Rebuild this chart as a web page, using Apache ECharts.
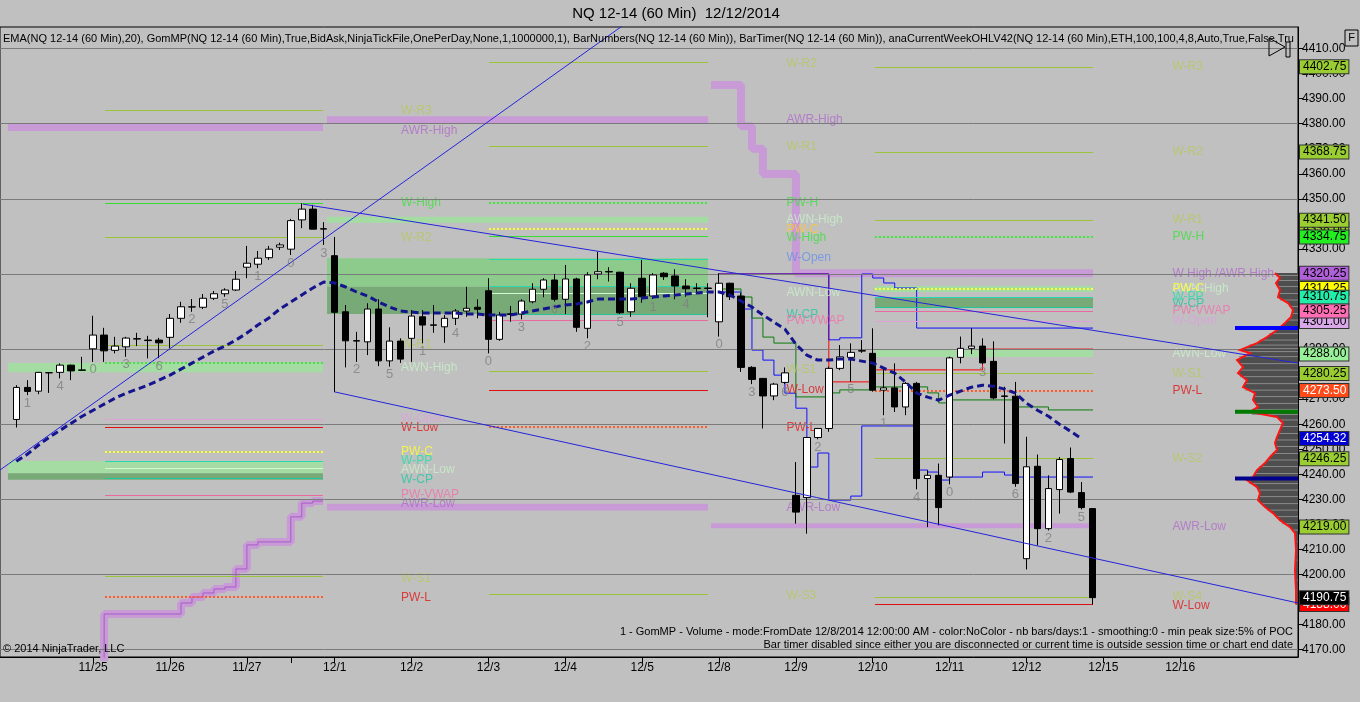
<!DOCTYPE html>
<html><head><meta charset="utf-8">
<script src="https://cdn.jsdelivr.net/npm/echarts@6.0.0/dist/echarts.min.js"></script>
<style>html,body{margin:0;padding:0;background:#c0c0c0;overflow:hidden}#c{width:1360px;height:702px}</style>
</head><body><div id="c"></div>
<script>
// ---------- DATA ----------
// hourly bars, index 0 = first bar on chart; [open, close, low, high]
const candles = [
[4261.9,4274.7,4258.7,4275.6],[4274.7,4273.1,4271.6,4277.6],[4273.2,4280.7,4272.0,4280.9],[4280.5,4280.6,4272.5,4280.8],
[4280.7,4283.6,4278.3,4284.3],[4283.6,4281.3,4277.6,4283.8],[4281.5,4281.7,4281.3,4286.9],[4290.1,4295.6,4284.9,4303.3],
[4295.6,4289.3,4284.9,4298.5],[4289.5,4291.2,4288.3,4294.9],[4290.9,4294.4,4286.9,4294.9],[4294.0,4294.2,4291.2,4296.5],
[4293.6,4293.4,4286.3,4295.3],[4293.6,4292.5,4286.4,4294.5],[4294.7,4302.3,4290.3,4304.0],[4302.3,4306.9,4300.5,4308.9],
[4306.8,4306.9,4304.9,4310.0],[4306.7,4310.3,4306.0,4312.0],[4310.3,4312.1,4309.6,4313.2],[4312.1,4313.6,4310.9,4314.3],
[4313.6,4317.9,4313.2,4321.2],[4322.7,4324.3,4318.3,4331.2],[4323.9,4326.3,4322.3,4329.2],[4326.5,4329.9,4325.6,4331.2],
[4330.7,4331.6,4329.6,4332.5],[4329.9,4341.3,4327.6,4342.0],[4341.6,4345.9,4338.3,4348.3],[4345.9,4337.9,4337.9,4347.6],
[4337.9,4338.1,4331.6,4340.7],[4327.3,4304.7,4272.8,4334.8],[4304.9,4293.3,4282.7,4307.6],[4293.2,4293.4,4284.9,4296.9],
[4292.9,4306.0,4287.6,4308.3],[4306.0,4285.3,4283.2,4309.9],[4285.3,4293.2,4283.0,4298.7],[4293.2,4286.0,4284.5,4294.3],
[4294.3,4303.2,4284.9,4305.6],[4302.9,4299.6,4292.3,4305.6],[4299.5,4299.7,4296.5,4307.6],[4298.9,4302.3,4292.5,4303.6],
[4302.3,4305.2,4299.6,4306.0],[4305.2,4306.3,4302.9,4314.9],[4306.7,4305.9,4302.3,4309.9],[4313.3,4293.9,4288.3,4318.3],
[4293.9,4303.6,4293.3,4304.9],[4304.1,4303.8,4300.9,4307.2],[4304.0,4309.2,4301.9,4309.9],[4308.9,4313.9,4308.3,4316.3],
[4313.9,4317.6,4310.7,4318.3],[4317.6,4309.9,4309.0,4320.0],[4309.9,4318.0,4304.0,4323.6],[4318.0,4298.7,4296.9,4318.5],
[4298.3,4319.6,4294.3,4320.7],[4320.0,4320.9,4317.9,4328.9],[4320.8,4321.0,4317.0,4322.7],[4320.7,4304.5,4304.0,4320.9],
[4304.9,4314.3,4302.9,4316.3],[4318.3,4310.9,4308.5,4325.6],[4311.2,4319.6,4310.0,4320.3],[4320.3,4318.9,4317.6,4320.7],
[4319.2,4315.2,4309.9,4321.9],[4315.2,4314.1,4310.9,4317.9],[4314.2,4314.4,4312.3,4316.3],[4314.2,4314.4,4302.7,4316.3],
[4300.9,4316.3,4295.0,4320.3],[4316.3,4310.9,4309.6,4316.5],[4311.2,4282.7,4280.9,4312.3],[4282.7,4277.9,4276.0,4283.2],
[4278.3,4271.3,4258.3,4278.3],[4271.3,4276.0,4269.6,4276.5],[4276.7,4280.5,4276.0,4282.7],[4231.6,4224.9,4220.3,4244.9],
[4230.7,4254.7,4216.3,4254.9],[4254.7,4258.3,4254.0,4258.5],[4258.3,4282.3,4257.0,4283.0],[4282.3,4286.9,4281.6,4291.6],
[4286.7,4288.7,4277.0,4292.3],[4289.2,4289.4,4288.5,4293.6],[4288.3,4273.6,4273.0,4298.3],[4273.6,4274.5,4263.6,4282.0],
[4274.5,4266.9,4264.9,4284.3],[4266.9,4276.3,4263.6,4276.9],[4276.3,4238.3,4234.0,4276.9],[4238.3,4239.6,4218.9,4241.6],
[4239.6,4226.7,4219.6,4244.3],[4238.9,4286.5,4236.0,4287.0],[4286.7,4290.3,4284.3,4295.0],[4290.3,4291.2,4288.0,4298.3],
[4291.2,4284.5,4284.0,4294.3],[4285.1,4270.5,4270.0,4293.1],[4271.1,4271.3,4252.3,4275.0],[4271.2,4236.3,4235.0,4276.9],
[4206.3,4243.0,4202.0,4255.0],[4243.2,4218.3,4211.6,4247.9],[4218.3,4234.3,4217.6,4239.6],[4233.9,4245.9,4224.3,4246.9],
[4246.3,4232.9,4232.5,4250.7],[4232.7,4226.7,4226.0,4236.9],[4226.3,4190.75,4188.0,4226.5]
];
// EMA(20) read per bar
const emaValues = [4245.2,4248.0,4251.6,4254.8,4257.6,4260.4,4263.2,4265.6,4268.0,4270.4,
4272.4,4274.0,4275.6,4277.6,4279.6,4282.0,4284.4,4286.8,4289.2,4291.2,
4293.6,4296.4,4299.6,4302.4,4306.0,4308.8,4311.6,4314.4,4316.8,4316.4,
4314.8,4312.8,4311.2,4308.8,4306.8,4305.2,4304.8,4304.4,4304.4,4304.4,
4304.4,4304.0,4304.0,4303.6,4303.6,4303.6,4304.4,4305.2,4306.0,4306.8,
4307.6,4308.0,4308.8,4310.0,4310.0,4310.0,4310.0,4310.4,4310.8,4311.2,
4311.6,4312.0,4312.4,4312.8,4312.8,4311.6,4309.2,4306.8,4303.6,4300.8,
4298.0,4292.0,4287.6,4285.6,4285.6,4286.0,4286.0,4285.2,4284.4,4282.4,
4280.4,4276.8,4272.4,4270.8,4269.6,4271.6,4273.2,4274.8,4275.6,4275.2,
4274.0,4272.4,4268.4,4265.6,4263.2,4260.0,4257.2,4254.3];
// bar numbers: every 3rd bar starting at bar 1
const barNumberFirst = 1, barNumberStep = 3;
const barNumberDigits = [1,4,0,3,6,2,5,1,0,3, 2,5,1,4,0,3,6,2,5,1,4,0, 3,6,2,5,1,4,0,3,6,2,5];
// x axis date ticks (bar index where each session starts)
const dateTickBars = [7,14,21,25,29,36,43,50,57,64,71,78,85,92,99,106];
const dateTickLabels = ['11/25','11/26','11/27','','12/1','12/2','12/3','12/4','12/5','12/8','12/9','12/10','12/11','12/12','12/15','12/16'];
// price axis
const priceTicks = [4170,4180,4190,4200,4210,4220,4230,4240,4250,4260,4270,4280,4290,4300,4310,4320,4330,4340,4350,4360,4370,4380,4390,4400,4410];
const gridPrices = [4170,4200,4230,4260,4290,4320,4350,4380,4410];
// trend lines [barIndex, price]
const trendRising = [[-1.485,4241.7],[60,4434.1]];
const trendUpper = [[26.1,4347.9],[116.73,4284.4]];
const trendLower = [[29.0,4272.9],[116.73,4188.6]];
// weekly levels: [fromBar, toBar, price, kind]
const levelSegments = [
[8.08,27.93,4385.2,'pivot'],[8.08,27.93,4348.4,'wHigh'],[8.08,27.93,4334.8,'pivot'],[8.08,27.93,4291.6,'pivot'],
[8.08,27.93,4284.4,'pwH'],[8.08,27.93,4262.0,'wOpen'],[8.08,27.93,4258.8,'wLow'],[8.08,27.93,4249.0,'pwC'],
[8.08,27.93,4245.3,'wPP'],[8.08,27.93,4242.3,'awnLine'],[8.08,27.93,4238.6,'wCP'],[8.08,27.93,4231.8,'vwap'],
[8.08,27.93,4199.2,'pivot'],[8.08,27.93,4191.2,'pwL'],
[43.05,63.0,4404.5,'pivot'],[43.05,63.0,4371.2,'pivot'],[43.05,63.0,4348.3,'pwH'],[43.05,63.0,4337.9,'pwC'],
[43.05,63.0,4334.9,'wHigh'],[43.05,63.0,4326.0,'wPP'],[43.05,63.0,4314.9,'wPP'],[43.05,63.0,4312.3,'awnLine'],
[43.05,63.0,4304.0,'wCP'],[43.05,63.0,4301.6,'vwap'],[43.05,63.0,4281.3,'pivot'],[43.05,63.0,4273.6,'wLow'],
[43.05,63.0,4258.9,'pwL'],[43.05,63.0,4191.9,'pivot'],
[78.2,98.06,4402.75,'pivot'],[78.2,98.06,4368.75,'pivot'],[78.2,98.06,4341.5,'pivot'],[78.2,98.06,4334.75,'pwH'],
[78.2,98.06,4314.25,'pwC'],[78.2,98.06,4310.75,'wPP'],[78.2,98.06,4306.8,'wCP'],[78.2,98.06,4305.25,'vwap'],
[78.2,98.06,4301.0,'wOpen'],[78.2,98.06,4280.25,'pivot'],[78.2,98.06,4273.5,'pwL'],[78.2,98.06,4246.25,'pivot'],
[78.2,98.06,4191.0,'pivot'],[78.2,98.06,4188.0,'wLow']
];
// shaded bands: [fromBar, toBar, lowPrice, highPrice, kind]
const bands = [
[-0.76,27.93,4377.05,4379.85,'awr'],[-0.76,27.93,4280.8,4284.4,'awn'],[-0.76,27.93,4240.4,4245.3,'awn'],[-0.76,27.93,4237.8,4240.4,'cp'],
[28.3,63.0,4380.2,4383.0,'awr'],[28.3,63.0,4340.5,4342.9,'awn'],[28.3,63.0,4314.9,4326.3,'box'],[28.3,63.0,4304.0,4314.9,'cp'],
[28.3,63.0,4225.5,4228.2,'awr'],
[63.27,98.06,4218.5,4220.5,'awr'],[78.2,98.06,4312.8,4315.2,'awn'],[78.2,98.06,4306.8,4310.8,'cp'],[78.2,98.06,4286.8,4289.6,'awn']
];
// average weekly range steps [bar, price]
const awrLowSteps = [[6,4160],[8,4184.2],[15,4188.6],[16,4191.0],[17,4192.6],[18,4194.2],[19,4195.0],[20,4202.2],[21,4211.8],[22,4213.0],[25,4223.0],[26,4228.5],[27,4229.3],[27.93,4229.3]];
const awrHighSteps = [[63.27,4395.5],[66,4379.0],[67,4370.0],[68,4359.9],[71,4320.25],[98.06,4320.25]];
// GomMP value-area step lines [bar, price]
const vaUpper = [[64,4320.0],[74,4293.7],[75,4294.5],[77,4320.0],[78,4318.4],[79,4316.4],[80,4314.4],[82,4298.4],[98.06,4298.4]];
const vaLower = [[64,4312.8],[66,4306.0],[67,4289.6],[68,4285.6],[69,4279.6],[70,4272.4],[71,4266.4],[72,4242.9],[73,4248.5],[74,4229.7],[76,4231.3],[77,4259.3],[82,4241.7],[83,4240.9],[84,4237.7],[85,4238.9],[88,4240.9],[90,4239.7],[91,4238.9],[98.06,4238.9]];
const vaRed = [[64,4320.0],[74,4276.9],[78,4281.7],[88,4290.0],[98.06,4290.0]];
const vaGreen = [[64,4314.0],[66,4310.8],[67,4302.4],[68,4294.8],[69,4292.4],[71,4270.9],[74,4272.5],[75,4273.7],[78,4274.9],[83,4272.5],[84,4268.5],[85,4269.7],[91,4266.9],[94,4265.7],[98.06,4265.7]];
// volume profile since 12/8: [price, volume]
const profileRows = [[4320.4,23],[4318.4,18],[4316.4,22],[4313.6,18],[4310.8,20],[4308.4,10],[4305.6,5],[4302.8,7],[4300.4,13],
[4297.6,21],[4294.8,31],[4292.4,41],[4290.8,51],[4289.6,58],[4288.4,48],[4285.6,61],[4282.8,55],[4280.4,60],[4277.6,51],
[4274.8,55],[4272.4,43],[4269.7,45],[4266.9,40],[4264.9,48],[4262.9,21],[4260.5,15],[4257.7,18],[4254.9,21],[4252.5,23],
[4249.7,21],[4246.9,28],[4244.5,33],[4241.7,41],[4238.9,45],[4237.7,51],[4234.9,41],[4232.5,38],[4229.7,40],[4226.9,33],
[4224.5,25],[4221.7,18],[4218.9,8],[4216.5,3],[4209.7,2],[4201.7,3],[4193.7,2],[4188.0,2]];
const profileMarks = [[4298.4,'vah'],[4265.0,'poc'],[4238.3,'val']];
const profileMarkReach = 63;
// level labels: [bar, price, text, kind]
const levelLabels = [
[35.0,4385.2,'W-R3','pivot'],[35.0,4377.4,'AWR-High','awr'],[35.0,4348.4,'W-High','wHigh'],[35.0,4334.4,'W-R2','pivot'],
[35.0,4291.6,'W-R1','pivot'],[35.0,4282.6,'AWN-High','awnText'],[35.0,4262.3,'W-Open','wOpen'],[35.0,4258.6,'W-Low','wLow'],
[35.0,4249.0,'PW-C','pwC'],[35.0,4245.3,'W-PP','wPP'],[35.0,4242.0,'AWN-Low','awnText'],[35.0,4238.0,'W-CP','wCP'],
[35.0,4231.7,'PW-VWAP','vwap'],[35.0,4228.4,'AWR-Low','awr'],[35.0,4198.5,'W-S1','pivot'],[35.0,4190.9,'PW-L','wLow'],
[70.1,4403.8,'W-R2','pivot'],[70.1,4381.8,'AWR-High','awr'],[70.1,4370.8,'W-R1','pivot'],[70.1,4348.3,'PW-H','wHigh'],
[70.1,4341.6,'AWN-High','awnText'],[70.1,4337.6,'PW-C','pwCB'],[70.1,4334.5,'W-High','wHigh'],[70.1,4326.4,'W-Open','wOpenB'],
[70.1,4312.6,'AWN-Low','awnText'],[70.1,4303.6,'W-CP','wCP'],[70.1,4301.2,'PW-VWAP','vwap'],[70.1,4281.6,'W-S1','pivot'],
[70.1,4273.6,'W-Low','wLow'],[70.1,4258.5,'PW-L','wLow'],[70.1,4226.5,'AWR-Low','awr'],[70.1,4191.6,'W-S3','pivot'],
[105.25,4402.75,'W-R3','pivot'],[105.25,4368.75,'W-R2','pivot'],[105.25,4341.5,'W-R1','pivot'],[105.25,4334.75,'PW-H','wHigh'],
[105.25,4320.25,'W High /AWR High','awr'],[105.25,4314.25,'AWN-High','awnText'],[105.25,4314.25,'PW-C','pwC'],
[105.25,4311.0,'W-PP','wPP'],[105.25,4308.2,'W-CP','wCP'],[105.25,4305.25,'PW-VWAP','vwap'],[105.25,4301.5,'W-Open','wOpen'],
[105.25,4288.0,'AWN-Low','awnText'],[105.25,4280.25,'W-S1','pivot'],[105.25,4273.5,'PW-L','wLow'],[105.25,4246.25,'W-S2','pivot'],
[105.25,4219.0,'AWR-Low','awr'],[105.25,4191.0,'W-S4','pivot'],[105.25,4187.6,'W-Low','wLow']
];
// price tags on the right axis: [price, kind]
const priceTags = [[4402.75,'pivot'],[4368.75,'pivot'],[4338.00,'pivot'],[4341.50,'pivot'],[4334.75,'pwH'],[4320.25,'awr'],
[4314.25,'pwC'],[4310.75,'wPP'],[4301.00,'wOpen'],[4305.25,'vwap'],[4288.00,'awn'],[4280.25,'pivot'],[4273.50,'pwL'],
[4254.32,'ema'],[4246.25,'pivot'],[4219.00,'pivot'],[4188.00,'wLow'],[4190.75,'last']];

// ---------- STYLES ----------
const FONT = '"Liberation Sans", Arial, sans-serif';
const lineKind = {
  pivot:{color:'#9cc43a',width:1,type:'solid'},
  wHigh:{color:'#33dd33',width:1,type:'solid'},
  pwH:{color:'#3ee83e',width:2,type:[2,2]},
  pwC:{color:'#ffff30',width:2,type:[2,2]},
  wLow:{color:'#e01010',width:1,type:'solid'},
  pwL:{color:'#ff5a2a',width:2,type:[2,2]},
  vwap:{color:'#e86aa0',width:1,type:'solid'},
  wOpen:{color:'#e0a0d8',width:1,type:'solid'},
  wPP:{color:'#28d8b0',width:1,type:'solid'},
  wCP:{color:'#22c49a',width:1,type:'solid'},
  awnLine:{color:'#d4f8d4',width:1,type:'solid'}
};
const bandColor = {awr:'#c89ad6',awn:'#a4dca4',box:'#8ccb8c',cp:'#78aa78'};
const labelColor = {pivot:'#b4c860',awr:'#b06ccc',wHigh:'#3ee03e',awnText:'#c8f0c8',wOpen:'#dca0dc',wOpenB:'#6a90e8',
  wLow:'#e01818',pwC:'#ffff30',pwCB:'#ffc830',wPP:'#20e0a8',wCP:'#20c8a0',vwap:'#f070a8'};
const tagBg = {pivot:'#9acd32',pwH:'#22ee22',awr:'#b060d8',pwC:'#ffff00',wPP:'#22eeaa',wOpen:'#d8a8e8',vwap:'#ff6eb4',
  awn:'#98f098',pwL:'#ff4a1a',ema:'#0000d0',wLow:'#ff0000',last:'#000000'};
const tagFg = {pwL:'#ffffff',ema:'#ffffff',wLow:'#ffffff',last:'#ffffff'};
const markColor = {vah:'#0000ff',poc:'#007a00',val:'#00008a'};

const X_MIN = -1.485, X_MAX = 116.73, Y_MIN = 4167.04, Y_MAX = 4418.63;
const GRID = {left:0,right:62,top:27,bottom:45};

const chart = echarts.init(document.getElementById('c'), null, {renderer:'canvas'});

function stepLine(data, color, width, z, extra){
  return Object.assign({type:'line', data:data, step:'end', showSymbol:false, symbol:'none', silent:true,
    lineStyle:{color:color,width:width}, z:z}, extra||{});
}

const barNumberData = barNumberDigits.map((d,k)=>{
  const i = barNumberFirst + k*barNumberStep;
  return {value:[i, candles[i][2]], name:String(d)};
});

const series = [
  // bands
  {type:'line', data:[], silent:true, z:1,
   markArea:{silent:true, data: bands.map(b=>[{coord:[b[0],b[3]], itemStyle:{color:bandColor[b[4]]}},{coord:[b[1],b[2]]}])}},
  // AWR steps (thick)
  stepLine(awrLowSteps,'#c89ad6',8,2),
  stepLine(awrHighSteps,'#c89ad6',8,2),
  stepLine(awrLowSteps,'#a45cc8',1,2),
  // level lines
  {type:'line', data:[], silent:true, z:2,
   markLine:{silent:true, symbol:['none','none'], label:{show:false},
     data: levelSegments.map(s=>[{coord:[s[0],s[2]], lineStyle:lineKind[s[3]]},{coord:[s[1],s[2]]}])}},
  // value area lines
  stepLine(vaRed,'#ff0000',1,3),
  stepLine(vaUpper,'#1010ff',1,3),
  stepLine(vaLower,'#1010ff',1,3),
  stepLine(vaGreen,'#0a7a0a',1,3),
  // level labels
  {type:'scatter', symbolSize:1, silent:true, z:4, itemStyle:{color:'rgba(0,0,0,0)'},
   data: levelLabels.map(l=>({value:[l[0],l[1]], name:l[2], label:{color:labelColor[l[3]]}})),
   label:{show:true, position:'right', distance:0, formatter:'{b}', fontSize:12, fontFamily:FONT}},
  // grid lines
  {type:'line', data:[], silent:true, z:5,
   markLine:{silent:true, symbol:['none','none'], label:{show:false}, lineStyle:{color:'#7a7a7a',width:1,type:'solid'},
     data: gridPrices.map(p=>({yAxis:p}))}},
  // volume profile
  {type:'custom', xAxisIndex:1, yAxisIndex:1, data:[0], silent:true, z:5, clip:false,
   renderItem:function(params, api){
     const pts = profileRows.map(r=>api.coord([r[1], r[0]]));
     const top = api.coord([0, profileRows[0][0]]);
     const bot = api.coord([0, profileRows[profileRows.length-1][0]]);
     const stripes = [];
     for (let k=0;k<profileRows.length-1;k++){
       const a = pts[k], b = pts[k+1];
       stripes.push({type:'line', shape:{x1:Math.min(a[0],b[0])+2, y1:(a[1]+b[1])/2, x2:top[0], y2:(a[1]+b[1])/2}, style:{stroke:'#8a8a8a', lineWidth:1}});
     }
     return {type:'group', children:[
       {type:'polygon', shape:{points:[top].concat(pts,[bot])}, style:{fill:'#4e4e4e'}}
     ].concat(stripes,[
       {type:'polyline', shape:{points:pts}, style:{stroke:'#ff1414', lineWidth:2, fill:null}}
     ])};
   }},
].concat(profileMarks.map(m=>({type:'line', xAxisIndex:1, yAxisIndex:1, silent:true, z:6, symbol:'none',
   data:[[profileMarkReach,m[0]],[0,m[0]]], lineStyle:{color:markColor[m[1]], width:4}})),
[
  // candles
  {type:'candlestick', z:7, silent:true, barWidth:7,
   data: candles.map((c,i)=>[i,c[0],c[1],c[2],c[3]]),
   encode:{x:0, y:[1,2,3,4]},
   itemStyle:{color:'#ffffff', color0:'#000000', borderColor:'#000000', borderColor0:'#000000', borderWidth:1}},
  // EMA
  {type:'line', z:8, silent:true, symbol:'none', data: emaValues.map((v,i)=>[i,v]),
   lineStyle:{color:'#14148c', width:3, type:[7,4]}},
  // trend lines
  {type:'line', z:8, silent:true, symbol:'none', data:trendRising, lineStyle:{color:'#2424dc',width:1}},
  {type:'line', z:8, silent:true, symbol:'none', data:trendUpper, lineStyle:{color:'#2424dc',width:1}},
  {type:'line', z:8, silent:true, symbol:'none', data:trendLower, lineStyle:{color:'#2424dc',width:1}},
  // bar numbers
  {type:'scatter', symbolSize:1, silent:true, z:9, itemStyle:{color:'rgba(0,0,0,0)'}, data:barNumberData,
   label:{show:true, position:'bottom', distance:1, formatter:'{b}', fontSize:13, color:'#808080', fontFamily:FONT}},
  // price tags
  {type:'line', data:[], silent:true, z:10, clip:false,
   markLine:{silent:true, symbol:['none','none'], lineStyle:{color:'rgba(0,0,0,0)', width:0},
     label:{show:true, position:'end', distance:2, fontSize:12, fontFamily:FONT, padding:[1,2,0,3], borderColor:'#333', borderWidth:1},
     data: priceTags.map(t=>({yAxis:t[0], label:{backgroundColor:tagBg[t[1]], color:tagFg[t[1]]||'#000000', formatter:t[0].toFixed(2)}}))}}
]);

const option = {
  animation:false,
  backgroundColor:'#c0c0c0',
  textStyle:{fontFamily:FONT},
  grid:[Object.assign({show:true, borderColor:'#000', borderWidth:1, backgroundColor:'transparent'},GRID),
        {left:1198,right:62,top:27,bottom:45}],
  xAxis:[{type:'value', gridIndex:0, min:X_MIN, max:X_MAX,
     axisLine:{show:true, onZero:false, lineStyle:{color:'#000'}},
     axisTick:{show:true, customValues:dateTickBars, length:6, lineStyle:{color:'#000'}},
     axisLabel:{customValues:dateTickBars.filter((b,k)=>dateTickLabels[k]!==''), color:'#000', fontSize:12, margin:5, fontFamily:FONT,
       formatter:v=>dateTickLabels[dateTickBars.indexOf(v)]},
     splitLine:{show:false}},
    {type:'value', gridIndex:1, min:0, max:100, inverse:true, show:false, axisLine:{onZero:false}}],
  yAxis:[{type:'value', gridIndex:0, position:'right', min:Y_MIN, max:Y_MAX,
     axisLine:{show:true, onZero:false, lineStyle:{color:'#000'}},
     axisTick:{show:true, customValues:priceTicks, length:5, lineStyle:{color:'#000'}},
     axisLabel:{customValues:priceTicks, color:'#000', fontSize:12, margin:4, fontFamily:FONT, formatter:v=>v.toFixed(2)},
     splitLine:{show:false}},
    {type:'value', gridIndex:1, min:Y_MIN, max:Y_MAX, show:false, axisLine:{onZero:false}}],
  graphic:[
    {type:'text', z:100, style:{text:'NQ 12-14 (60 Min)  12/12/2014', x:676, y:14, align:'center', verticalAlign:'middle', font:'15px '+FONT, fill:'#000'}},
    {type:'text', z:100, style:{text:'EMA(NQ 12-14 (60 Min),20), GomMP(NQ 12-14 (60 Min),True,BidAsk,NinjaTickFile,OnePerDay,None,1,1000000,1), BarNumbers(NQ 12-14 (60 Min)), BarTimer(NQ 12-14 (60 Min)), anaCurrentWeekOHLV42(NQ 12-14 (60 Min),ETH,100,100,4,8,Auto,True,False,True)',
      x:3, y:39, verticalAlign:'middle', font:'11px '+FONT, fill:'#000', width:1294, overflow:'truncate', ellipsis:''}},
    {type:'rect', z:100, shape:{x:1345,y:30,width:13,height:16}, style:{fill:'#c0c0c0', stroke:'#000', lineWidth:1}},
    {type:'text', z:101, style:{text:'F', x:1351.5, y:38, align:'center', verticalAlign:'middle', font:'11px '+FONT, fill:'#000'}},
    {type:'polygon', z:100, shape:{points:[[1269,38],[1285,47],[1269,56]]}, style:{fill:'none', stroke:'#000', lineWidth:1}},
    {type:'rect', z:100, shape:{x:1286,y:42,width:4,height:15}, style:{fill:'none', stroke:'#000', lineWidth:1}},
    {type:'text', z:100, style:{text:'\u00a9 2014 NinjaTrader, LLC', x:3, y:649, verticalAlign:'middle', font:'11px '+FONT, fill:'#000'}},
    {type:'text', z:100, style:{text:'1 - GomMP - Volume - mode:FromDate 12/8/2014 12:00:00 AM - color:NoColor - nb bars/days:1 - smoothing:0 - min peak size:5% of POC',
      x:1293, y:632, align:'right', verticalAlign:'middle', font:'11px '+FONT, fill:'#000'}},
    {type:'text', z:100, style:{text:'Bar timer disabled since either you are disconnected or current time is outside session time or chart end date',
      x:1293, y:645, align:'right', verticalAlign:'middle', font:'11px '+FONT, fill:'#000'}}
  ],
  series:series
};
chart.setOption(option);
</script></body></html>
